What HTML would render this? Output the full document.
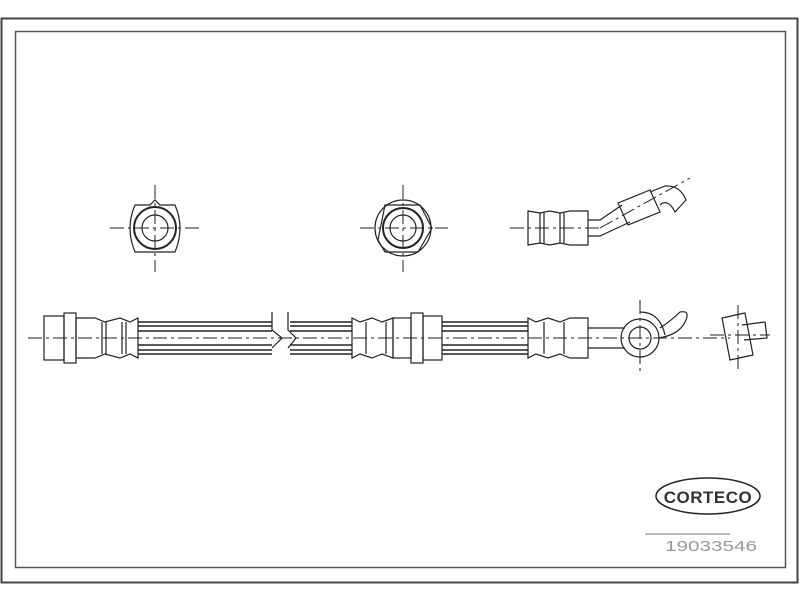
<!DOCTYPE html>
<html><head><style>body{margin:0;background:#fff}svg{display:block}</style></head><body>
<svg width="800" height="600" viewBox="0 0 800 600" xmlns="http://www.w3.org/2000/svg" fill="none" stroke="#222" stroke-width="1.2" font-family="Liberation Sans, sans-serif">
<rect x="1.5" y="18.5" width="796" height="564" stroke="#444" stroke-width="2"/>
<rect x="15.5" y="31.5" width="770" height="536" stroke="#555" stroke-width="1.5"/>
<g stroke-dasharray="14,4,3,4" stroke-width="1">
<line x1="110" y1="228" x2="200" y2="228"/><line x1="155" y1="185" x2="155" y2="272"/>
<line x1="360" y1="228" x2="448" y2="228"/><line x1="403" y1="185" x2="403" y2="272"/>
<line x1="510" y1="228" x2="600" y2="228"/><line x1="600" y1="228" x2="690" y2="178"/>
<line x1="28" y1="338" x2="730" y2="338"/><line x1="640" y1="300" x2="640" y2="375"/>
<line x1="710" y1="335" x2="770" y2="335"/><line x1="738" y1="305" x2="738" y2="370"/>
</g>
<path d="M135 205 L150 205 L155 200 L160 205 L175 205 Q185 228 175 252 L135 252 Q125 228 135 205Z"/>
<circle cx="155" cy="228" r="21" stroke-width="2"/><circle cx="155" cy="228" r="13"/>
<circle cx="403" cy="228" r="28"/><path d="M385 205 L420 205 L432 228 L418 252 L385 252 L378 240Z"/>
<circle cx="403" cy="228" r="20" stroke-width="2"/><circle cx="403" cy="228" r="13"/>
<path d="M528 211 L540 213 L550 211 L560 213 L570 211 L588 211 L588 245 L570 245 L560 243 L550 245 L540 243 L528 245 Z"/>
<line x1="540" y1="213" x2="540" y2="243"/><line x1="544" y1="213" x2="544" y2="243"/>
<line x1="560" y1="213" x2="560" y2="243"/><line x1="564" y1="213" x2="564" y2="243"/>
<path d="M588 220 L600 220 L622 205 M588 236 L600 236 L630 222"/>
<path d="M618 203 L650 190 L660 212 L628 225 Z"/><path d="M650 192 L665 186 Q680 185 686 200 L675 212 Q668 198 660 205"/>
<rect x="44" y="316" width="20" height="44"/><rect x="64" y="313" width="12" height="50"/>
<path d="M76 318 L95 318 L105 322 L120 318 L130 322 L138 318 L138 358 L130 354 L120 358 L105 354 L95 358 L76 358Z"/>
<line x1="102" y1="322" x2="102" y2="354"/><line x1="106" y1="322" x2="106" y2="354"/>
<line x1="122" y1="322" x2="122" y2="354"/><line x1="126" y1="322" x2="126" y2="354"/>
<g stroke-width="1.4">
<path d="M138 322 H272 M138 326 H272 M138 331 H272 M138 345 H272 M138 350 H272 M138 354 H272"/>
<path d="M290 322 H352 M290 326 H352 M290 331 H352 M290 345 H352 M290 350 H352 M290 354 H352"/>
<path d="M442 322 H528 M442 326 H528 M442 331 H528 M442 345 H528 M442 350 H528 M442 354 H528"/>
</g>
<path d="M272 312 V330 L282 338 L272 348 M288 312 V330 L296 338 L288 348"/>
<path d="M352 318 L360 322 L372 318 L382 322 L393 318 L393 358 L382 354 L372 358 L360 354 L352 358Z"/>
<line x1="366" y1="322" x2="366" y2="354"/><line x1="386" y1="322" x2="386" y2="354"/>
<rect x="393" y="318" width="18" height="40"/><rect x="411" y="313" width="12" height="50"/><rect x="423" y="316" width="19" height="44"/>
<path d="M528 318 L536 322 L548 318 L560 322 L570 318 L588 318 L588 358 L570 358 L560 354 L548 358 L536 354 L528 358Z"/>
<line x1="544" y1="322" x2="544" y2="354"/><line x1="564" y1="322" x2="564" y2="354"/>
<path d="M588 328 H625 M588 348 H625"/>
<circle cx="640" cy="338" r="19"/><circle cx="640" cy="338" r="11"/>
<path d="M640 312 Q660 312 665 335 M658 338 Q680 335 686 320 Q690 310 680 312 Q672 320 660 328"/>
<path d="M722 318 L745 313 L753 355 L730 360Z"/><path d="M742 325 L765 322 L767 338 L744 340"/>
<ellipse cx="708" cy="496" rx="52" ry="18" stroke-width="1.5"/>
<text x="708" y="503" text-anchor="middle" font-size="17" font-weight="bold" fill="#333" stroke="none" letter-spacing="0.5">CORTECO</text>
<line x1="645" y1="534" x2="730" y2="534" stroke="#777" stroke-width="1"/>
<text x="665" y="551" font-size="15" fill="#999" stroke="none" textLength="92" lengthAdjust="spacingAndGlyphs">19033546</text>
</svg>
</body></html>
